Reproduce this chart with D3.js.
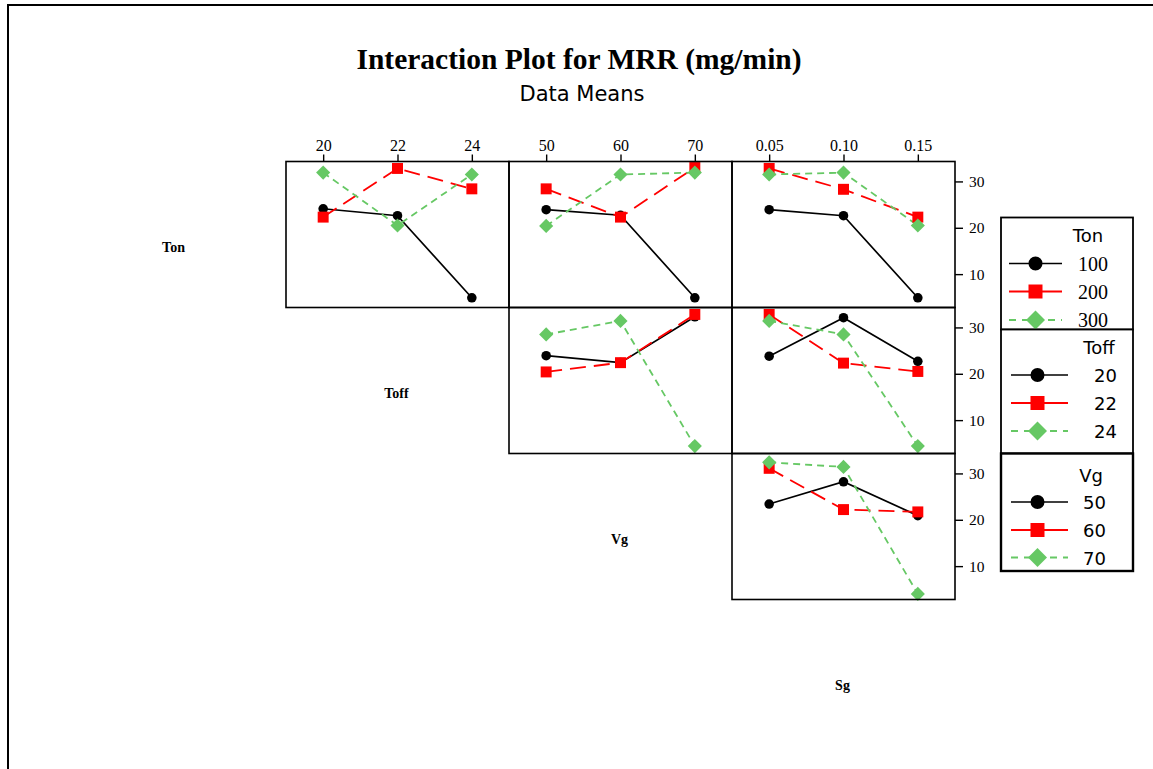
<!DOCTYPE html>
<html>
<head>
<meta charset="utf-8">
<script src="https://cdn.jsdelivr.net/npm/d3@7"></script>
<style>
  body { margin: 0; background: #fff; }
  svg { display: block; }
</style>
</head>
<body>
<div id="chart"></div>
<script>
var svgWidth = 1153;
var svgHeight = 769;

// factor names and their levels
var factors = ["Ton", "Toff", "Vg", "Sg"];
var tonLevels = ["100", "200", "300"];
var toffLevels = ["20", "22", "24"];
var vgLevels = ["50", "60", "70"];
var sgLevels = ["0.05", "0.10", "0.15"];
var yTicks = [10, 20, 30];

// MRR means: one row per level of the line factor, one value per level of the x factor
var tonByToff = [[24.1, 22.6, 4.9], [22.3, 32.8, 28.4], [31.9, 20.5, 31.5]];
var tonByVg   = [[23.9, 22.7, 4.9], [28.4, 22.3, 33.0], [20.4, 31.5, 31.9]];
var tonBySg   = [[23.9, 22.6, 4.9], [32.8, 28.3, 22.3], [31.5, 31.9, 20.5]];
var toffByVg  = [[23.9, 22.4, 32.3], [20.4, 22.4, 32.8], [28.5, 31.4, 4.4]];
var toffBySg  = [[23.8, 32.1, 22.7], [32.8, 22.3, 20.5], [31.4, 28.5, 4.4]];
var vgBySg    = [[23.4, 28.2, 20.9], [31.1, 22.2, 21.7], [32.4, 31.4, 4.0]];

var levels = [tonLevels, toffLevels, vgLevels, sgLevels];
var panels = [
  { row: 0, col: 0, data: tonByToff },
  { row: 0, col: 1, data: tonByVg },
  { row: 0, col: 2, data: tonBySg },
  { row: 1, col: 1, data: toffByVg },
  { row: 1, col: 2, data: toffBySg },
  { row: 2, col: 2, data: vgBySg }
];

var seriesStyle = [
  { color: "#000000", dash: null, legendDash: null, width: 1.7, shape: "circle" },
  { color: "#ff0000", dash: "16,8", legendDash: null, width: 1.8, shape: "square" },
  { color: "#66c864", dash: "7,5", legendDash: "7,6", width: 1.8, shape: "diamond" }
];

var serifFont = "'Liberation Serif', 'Times New Roman', serif";
var sansFont = "'DejaVu Sans', sans-serif";

var left = 286, top0 = 161.5, pw = 223, ph = 146;

var svg = d3.select("#chart")
  .append("svg")
  .attr("width", svgWidth)
  .attr("height", svgHeight);

svg.append("rect").attr("width", svgWidth).attr("height", svgHeight).attr("fill", "#fff");

// outer frame
svg.append("path")
  .attr("d", "M8," + svgHeight + "V5H" + svgWidth)
  .attr("fill", "none")
  .attr("stroke", "#000")
  .attr("stroke-width", 2);

// titles
svg.append("text")
  .attr("x", 579).attr("y", 69)
  .attr("text-anchor", "middle")
  .style("font-family", serifFont)
  .style("font-weight", "bold")
  .style("font-size", "29.5px")
  .text("Interaction Plot for MRR (mg/min)");

svg.append("text")
  .attr("x", 582).attr("y", 101)
  .attr("text-anchor", "middle")
  .style("font-family", sansFont)
  .style("font-size", "21px")
  .text("Data Means");

var yScale = d3.scaleLinear().domain([2.8, 34.3]).range([ph, 0]);

function marker(shape, size) {
  var s = d3.symbol();
  if (shape === "circle") return s.type(d3.symbolCircle).size(size)();
  return s.type(d3.symbolSquare).size(size)();
}
var panelSizes = { circle: 72, square: 120, diamond: 100 };
var legendSizes = { circle: 154, square: 196, diamond: 180 };

panels.forEach(function(p) {
  var g = svg.append("g")
    .attr("transform", "translate(" + (left + p.col * pw) + "," + (top0 + p.row * ph) + ")");

  var xLevels = levels[p.col + 1];
  var xScale = d3.scalePoint().domain(xLevels).range([0, pw]).padding(0.5);

  var line = d3.line()
    .x(function(d, i) { return xScale(xLevels[i]); })
    .y(function(d) { return yScale(d); });

  p.data.forEach(function(vals, k) {
    var st = seriesStyle[k];
    g.append("path")
      .datum(vals)
      .attr("d", line)
      .attr("fill", "none")
      .attr("stroke", st.color)
      .attr("stroke-width", st.width)
      .attr("stroke-dasharray", st.dash);
  });
  p.data.forEach(function(vals, k) {
    var st = seriesStyle[k];
    g.selectAll(null)
      .data(vals)
      .enter()
      .append("path")
      .attr("d", marker(st.shape, panelSizes[st.shape]))
      .attr("transform", function(d, i) {
        return "translate(" + xScale(xLevels[i]) + "," + yScale(d) + ")" + (st.shape === "diamond" ? " rotate(45)" : "");
      })
      .attr("fill", st.color);
  });

  g.append("rect")
    .attr("width", pw).attr("height", ph)
    .attr("fill", "none")
    .attr("stroke", "#000")
    .attr("stroke-width", 1.6);

  if (p.row === 0) {
    var topAxis = g.append("g")
      .call(d3.axisTop(xScale).tickSize(7).tickSizeOuter(0).tickPadding(4));
    topAxis.select(".domain").remove();
    topAxis.selectAll("line").attr("stroke-width", 1.4);
    topAxis.selectAll("text")
      .style("font-family", serifFont)
      .style("font-size", "16px")
      .attr("fill", "#000");
  }
  if (p.col === 2) {
    var rightAxis = g.append("g")
      .attr("transform", "translate(" + pw + ",0)")
      .call(d3.axisRight(yScale).tickValues(yTicks).tickSize(8).tickPadding(6));
    rightAxis.select(".domain").remove();
    rightAxis.selectAll("line").attr("stroke-width", 1.4);
    rightAxis.selectAll("text")
      .style("font-family", serifFont)
      .style("font-size", "15.5px")
      .attr("fill", "#000");
  }
});

// factor names on the diagonal
factors.forEach(function(f, i) {
  svg.append("text")
    .attr("x", left + (i - 1) * pw + pw / 2 - 1)
    .attr("y", top0 + i * ph + ph / 2 + 17)
    .attr("text-anchor", "middle")
    .style("font-family", serifFont)
    .style("font-weight", "bold")
    .style("font-size", "14px")
    .text(f);
});

// legends
var legendBoxes = [
  { top: 217.5, bottom: 329.5, titleX: 1088, titleY: 242, lineX: [1009, 1062], markX: 1035.5,
    rowsY: [263.5, 291.5, 320], textX: 1078, anchor: "start", useSerif: true },
  { top: 329.5, bottom: 453.5, titleX: 1099, titleY: 354, lineX: [1011, 1068], markX: 1037.5,
    rowsY: [375, 403, 431], textX: 1117, anchor: "end", useSerif: false },
  { top: 453.5, bottom: 571, titleX: 1091, titleY: 482, lineX: [1011, 1068], markX: 1037.5,
    rowsY: [502, 530, 557.5], textX: 1083, anchor: "start", useSerif: false }
];

legendBoxes.forEach(function(b, i) {
  var lg = svg.append("g");
  lg.append("rect")
    .attr("x", 1001).attr("y", b.top)
    .attr("width", 132).attr("height", b.bottom - b.top)
    .attr("fill", "#fff")
    .attr("stroke", "#000")
    .attr("stroke-width", i === 2 ? 2.4 : 1.8);
  lg.append("text")
    .attr("x", b.titleX).attr("y", b.titleY)
    .attr("text-anchor", "middle")
    .style("font-family", sansFont)
    .style("font-size", "18px")
    .text(factors[i]);
  levels[i].forEach(function(lv, k) {
    var st = seriesStyle[k];
    var y = b.rowsY[k];
    lg.append("line")
      .attr("x1", b.lineX[0]).attr("x2", b.lineX[1])
      .attr("y1", y).attr("y2", y)
      .attr("stroke", st.color)
      .attr("stroke-width", st.width)
      .attr("stroke-dasharray", st.legendDash);
    lg.append("path")
      .attr("d", marker(st.shape, legendSizes[st.shape]))
      .attr("transform", "translate(" + b.markX + "," + y + ")" + (st.shape === "diamond" ? " rotate(45)" : ""))
      .attr("fill", st.color);
    lg.append("text")
      .attr("x", b.textX).attr("y", y + 7)
      .attr("text-anchor", b.anchor)
      .style("font-family", b.useSerif ? serifFont : sansFont)
      .style("font-size", b.useSerif ? "20px" : "18px")
      .text(lv);
  });
});
</script>
</body>
</html>
